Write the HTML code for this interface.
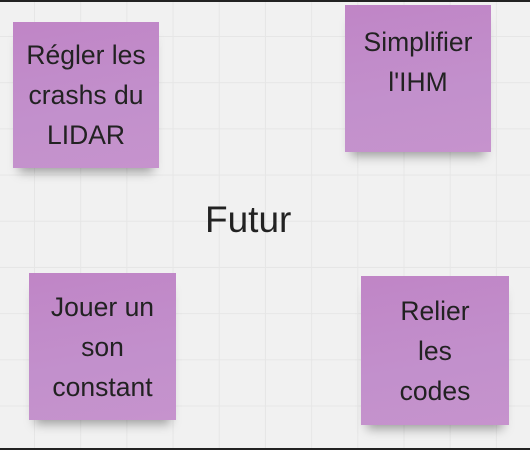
<!DOCTYPE html>
<html><head><style>
body{margin:0;width:530px;height:450px;overflow:hidden;font-family:"Liberation Sans",sans-serif}
.bg{position:absolute;left:0;top:0;width:530px;height:450px;background-color:#f1f1f1;
background-image:linear-gradient(#e6e6e6 1px,transparent 1px),linear-gradient(90deg,#e6e6e6 1px,transparent 1px);
background-size:46.2px 46.2px;background-position:34px 34px;border-top:2px solid #222;border-bottom:2px solid #222;box-sizing:border-box}
.n{position:absolute;background:linear-gradient(170deg,#c085c6 0%,#c290cc 60%,#c693cd 100%);color:#222;font-size:26.5px;line-height:40px;text-align:center;display:flex;align-items:center;justify-content:center;box-shadow:0 10px 10px -6px rgba(0,0,0,.35)}
</style></head><body>
<div class="bg"></div>
<div class="n" style="left:13px;top:22px;width:146px;height:146px">Régler les<br>crashs du<br>LIDAR</div>
<div class="n" style="left:345px;top:5px;width:146px;height:147px;align-items:flex-start;padding-top:17px;box-sizing:border-box">Simplifier<br>l'IHM</div>
<div class="n" style="left:29px;top:273px;width:147px;height:147px">Jouer un<br>son<br>constant</div>
<div class="n" style="left:361px;top:276px;width:148px;height:149px">Relier<br>les<br>codes</div>
<div style="position:absolute;left:205px;top:199px;font-size:37px;color:#222">Futur</div>
</body></html>
